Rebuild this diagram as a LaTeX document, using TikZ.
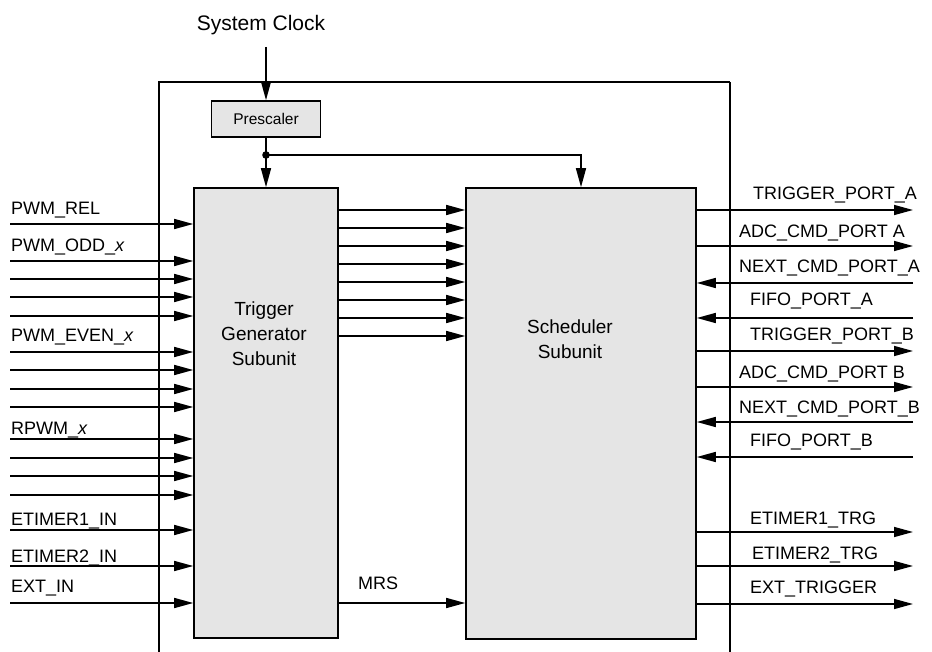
\documentclass[tikz,border=0pt]{standalone}
\usepackage{fontspec}
\setmainfont{Liberation Sans}
\usepackage{tikz}
\usetikzlibrary{arrows.meta,calc}
\colorlet{cbox}{black!10}
\colorlet{cline}{black}
\tikzset{
  unit/.style={draw=cline, fill=cbox, line width=1.6pt, inner sep=0pt},
  utext/.style={font=\fontsize{19}{25}\selectfont, align=center},
  sig/.style={-{Triangle[length=19pt,width=10pt]}, line width=1.5pt, cline},
  lbl/.style={font=\fontsize{18}{21}\selectfont, anchor=base west, inner sep=0pt},
}

\begin{document}
\begin{tikzpicture}[x=1pt, y=-1pt]
\useasboundingbox (0,0) rectangle (932,652);
% module outline, open at the bottom
\draw[line width=1.6pt, cline] (159,652) -- (159,82) -- (730,82);
\draw[line width=1.1pt, cline] (730,82) -- (730,652);

\node[font=\fontsize{21}{24}\selectfont] (clk) at (261,25) {System Clock};
\node[unit, minimum width=109pt, minimum height=36pt, font=\fontsize{15.5}{18}\selectfont] (pre) at (266,119) {Prescaler};
\node[unit, minimum width=144pt, minimum height=450pt] (trg) at (266,413) {};
\node[utext] (trgtxt) at (264,334) {Trigger\\Generator\\Subunit};
\node[unit, minimum width=230pt, minimum height=451pt] (sch) at (581,413.5) {};
\node[utext] (schtxt) at (570,339) {Scheduler\\Subunit};

% clock distribution
\coordinate (clkin) at (266,47);
\coordinate (split) at (266,155);
\draw[sig] (clkin) -- (pre.north);
\draw[line width=1.5pt] (pre.south) -- (split);
\fill (split) circle (3.8pt);
\draw[sig] (split) -- (trg.north);
\draw[sig] (split) -| (sch.north);

% inputs of the trigger generator
\foreach \y in {224,261,279,297,316,352,370,389,407,439,458,476,495,530,566,603} {
  \coordinate (in) at (10,\y);
  \draw[sig] (in) -- (in -| trg.west);
}
\foreach \ly/\t in {215/PWM\_REL, 252/PWM\_ODD\_\textit{x}, 342/PWM\_EVEN\_\textit{x},
                    434/RPWM\_\textit{x}, 525/ETIMER1\_IN, 562/ETIMER2\_IN, 592/EXT\_IN}
  \node[lbl] at (11,\ly) {\t};

% trigger generator -> scheduler
\foreach \y in {210,228,...,336}
  \draw[sig] (trg.east |- 0,\y) -- (sch.west |- 0,\y);
\draw[sig] (trg.east |- 0,603) -- (sch.west |- 0,603);
\node[lbl] (mrs) at (358,589) {MRS};

% scheduler outputs
\foreach \y/\lx/\ly/\t in {210/753/200/TRIGGER\_PORT\_A, 246/739/238/ADC\_CMD\_PORT A,
                           351/750/341/TRIGGER\_PORT\_B, 387/739/378/ADC\_CMD\_PORT B,
                           532/750/524/ETIMER1\_TRG, 566/752/559/ETIMER2\_TRG,
                           604/750/593/EXT\_TRIGGER} {
  \coordinate (out) at (913,\y);
  \draw[sig] (out -| sch.east) -- (out);
  \node[lbl] at (\lx,\ly) {\t};
}
% scheduler inputs
\foreach \y/\lx/\ly/\t in {283/739/273/NEXT\_CMD\_PORT\_A, 318/750/306/FIFO\_PORT\_A,
                           422/739/413/NEXT\_CMD\_PORT\_B, 457/750/446/FIFO\_PORT\_B} {
  \coordinate (in) at (913,\y);
  \draw[sig] (in) -- (in -| sch.east);
  \node[lbl] at (\lx,\ly) {\t};
}
\end{tikzpicture}
\end{document}
